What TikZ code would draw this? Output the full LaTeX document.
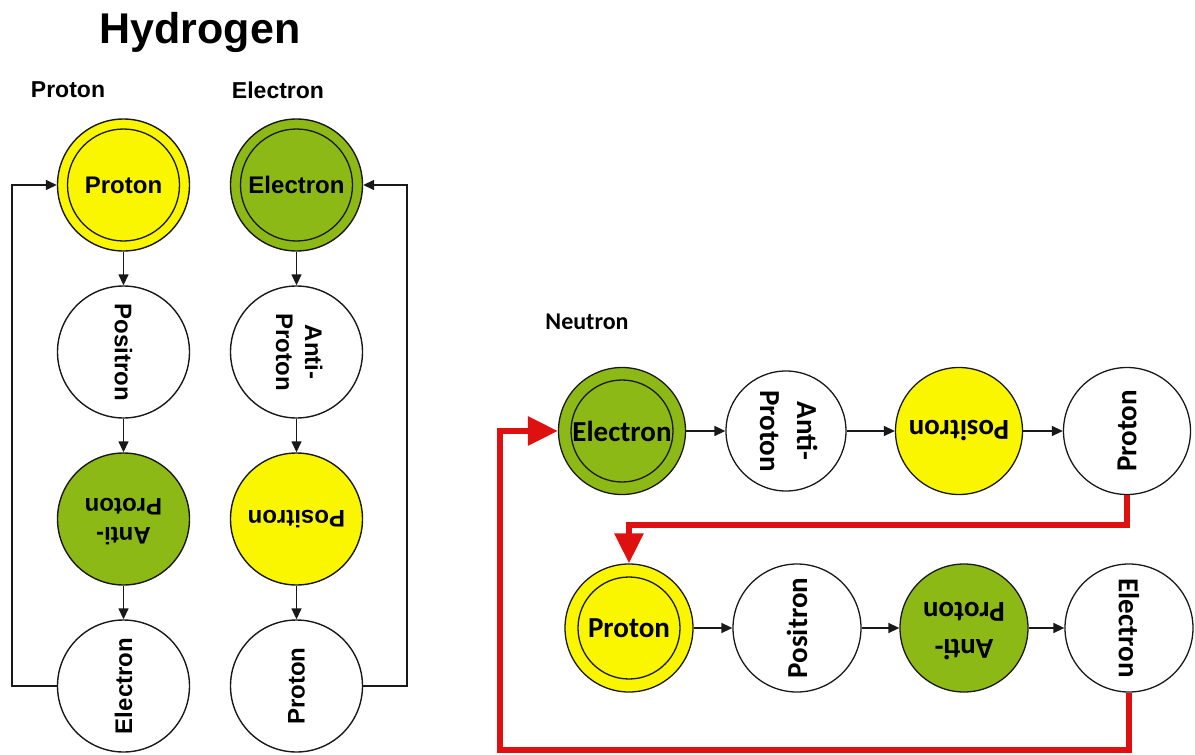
\documentclass[tikz,border=0pt]{standalone}
\usepackage{fontspec}
\usepackage{graphicx}
\setmainfont{Liberation Sans}
\newfontfamily\calfont{Carlito}
\usetikzlibrary{arrows.meta}

\definecolor{pyellow}{RGB}{250,246,0}
\definecolor{pgreen}{RGB}{141,185,23}
\definecolor{loopred}{RGB}{222,16,16}
\definecolor{ink}{RGB}{25,25,25}

% two stacked lines, centred
\newcommand\twoline[2]{\begin{tabular}{@{}c@{}}#1\\#2\end{tabular}}

\begin{document}
\begin{tikzpicture}[x=1pt,y=-1pt,
  hsph/.style={circle, draw=ink, line width=1.4pt, fill=white, inner sep=0pt,
    minimum size=132pt, font=\fontsize{24}{29}\selectfont\bfseries},
  nsph/.style={circle, draw=ink, line width=1.3pt, fill=white, inner sep=0pt,
    minimum size=#1, font=\calfont\fontsize{29}{37}\selectfont\bfseries},
  nsph/.default=127pt,
  ring/.style={path picture={\draw[ink, line width=1.3pt]
    (path picture bounding box.center) circle[radius=#1];}},
  flow/.style={draw=ink, line width=1.5pt, -{Triangle[length=11pt,width=10pt]}},
  redloop/.style={draw=loopred, line width=6pt, line join=miter,
    -{Triangle[length=30pt,width=28pt]}},
  lbl/.style={font=\fontsize{23}{28}\selectfont\bfseries, inner sep=0pt}
]
\useasboundingbox (0,0) rectangle (1195,755);

% ---------- Hydrogen ----------
\node[font=\fontsize{43}{50}\selectfont\bfseries, inner sep=0pt] (title) at (200,32) {Hydrogen};
\node[lbl] (lblP) at (68,90) {Proton};
\node[lbl] (lblE) at (278,90) {Electron};

\node[hsph, fill=pyellow, ring=56pt] (hA1) at (123.5,185) {Proton};
\node[hsph] (hA2) at (123.5,352) {\rotatebox{-90}{Positron}};
\node[hsph, fill=pgreen] (hA3) at (123.5,519) {\rotatebox{180}{\twoline{Anti-}{Proton}}};
\node[hsph] (hA4) at (123.5,686) {\rotatebox{90}{Electron}};

\node[hsph, fill=pgreen, ring=56pt] (hB1) at (296.5,185) {Electron};
\node[hsph] (hB2) at (296.5,352) {\rotatebox{-90}{\twoline{Anti-}{Proton}}};
\node[hsph, fill=pyellow] (hB3) at (296.5,519) {\rotatebox{180}{Positron}};
\node[hsph] (hB4) at (296.5,686) {\rotatebox{90}{Proton}};

\draw[flow] (hA1) -- (hA2);
\draw[flow] (hA2) -- (hA3);
\draw[flow] (hA3) -- (hA4);
\draw[flow] (hB1) -- (hB2);
\draw[flow] (hB2) -- (hB3);
\draw[flow] (hB3) -- (hB4);

\coordinate (hLbot) at (12,686);
\coordinate (hRbot) at (407,686);
\draw[flow] (hA4.west) -- (hLbot) |- (hA1.west);
\draw[flow] (hB4.east) -- (hRbot) |- (hB1.east);

% ---------- Neutron ----------
\node[font=\calfont\fontsize{24}{29}\selectfont\bfseries, inner sep=0pt] (lblN) at (587,322) {Neutron};

\node[nsph, fill=pgreen, ring=51pt] (nA1) at (622,431) {Electron};
\node[nsph=120pt] (nA2) at (786,431) {\rotatebox{-90}{\twoline{Anti-}{Proton}}};
\node[nsph, fill=pyellow] (nA3) at (959,431) {\rotatebox{180}{Positron}};
\node[nsph] (nA4) at (1127,431) {\rotatebox{90}{Proton}};

\node[nsph=128pt, fill=pyellow, ring=51pt] (nB1) at (629,628) {Proton};
\node[nsph=128pt] (nB2) at (797,628) {\rotatebox{90}{Positron}};
\node[nsph=128pt, fill=pgreen] (nB3) at (964,628) {\rotatebox{180}{\twoline{Anti-}{Proton}}};
\node[nsph=128pt] (nB4) at (1129,628) {\rotatebox{-90}{Electron}};

\draw[flow] (nA1) -- (nA2);
\draw[flow] (nA2) -- (nA3);
\draw[flow] (nA3) -- (nA4);
\draw[flow] (nB1) -- (nB2);
\draw[flow] (nB2) -- (nB3);
\draw[flow] (nB3) -- (nB4);

\coordinate (redMid) at (629,525);
\coordinate (redBL) at (500,750);
\draw[redloop] (nA4.south) |- (redMid) -- (nB1.north);
\draw[redloop] (nB4.south) |- (redBL) |- (nA1.west);
\end{tikzpicture}
\end{document}
